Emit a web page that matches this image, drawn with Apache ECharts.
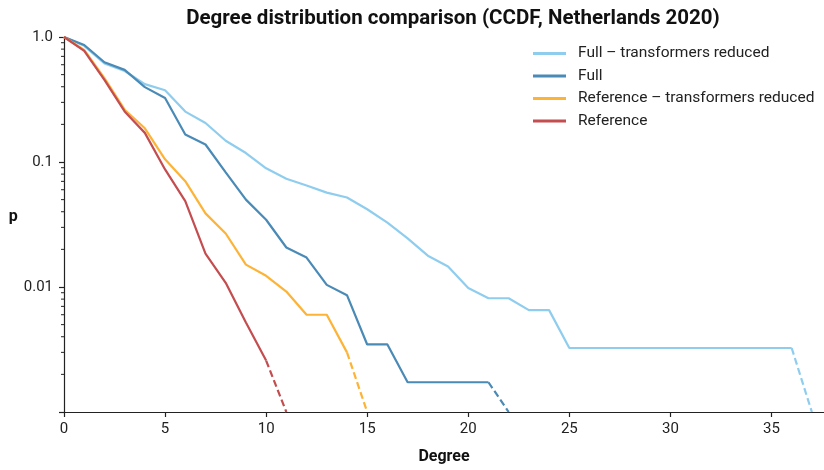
<!DOCTYPE html>
<html>
<head>
<meta charset="utf-8">
<script src="https://cdn.jsdelivr.net/npm/echarts@6/dist/echarts.min.js"></script>
<style>html,body{margin:0;padding:0;background:#fff}#c{width:824px;height:470px}</style>
</head>
<body>
<div id="c"></div>
<script>
// ---- data ----
const seriesNames = ['Full \u2013 transformers reduced', 'Full', 'Reference \u2013 transformers reduced', 'Reference'];
const seriesColors = ['#8fcdef', '#4a8ab6', '#fdb336', '#c44d4f'];

const fullTRDeg = [0,1,2,3,4,5,6,7,8,9,10,11,12,13,14,15,16,17,18,19,20,21,22,23,24,25,36];
const fullTRVal = [1.0,0.85,0.615,0.535,0.42,0.375,0.253,0.205,0.148,0.118,0.089,0.0735,0.0648,0.0569,0.052,0.0419,0.0327,0.0245,0.0178,0.0146,0.0098,0.00813,0.00813,0.00653,0.00653,0.00325,0.00325];
const fullTRTail = [[36,0.00325],[37,0.001]];

const fullDeg = [0,1,2,3,4,5,6,7,8,9,10,11,12,13,14,15,16,17,18,19,20,21];
const fullVal = [1.0,0.863,0.628,0.546,0.397,0.325,0.166,0.138,0.0827,0.050,0.0345,0.0207,0.0172,0.0104,0.0086,0.00347,0.00347,0.00173,0.00173,0.00173,0.00173,0.00173];
const fullTail = [[21,0.00173],[22,0.001]];

const refTRDeg = [0,1,2,3,4,5,6,7,8,9,10,11,12,13,14];
const refTRVal = [1.0,0.788,0.469,0.262,0.186,0.105,0.0703,0.0388,0.0268,0.0151,0.0123,0.0092,0.0060,0.0060,0.0030];
const refTRTail = [[14,0.0030],[15,0.001]];

const refDeg = [0,1,2,3,4,5,6,7,8,9,10];
const refVal = [1.0,0.775,0.454,0.254,0.171,0.0872,0.0486,0.0185,0.0108,0.0052,0.00258];
const refTail = [[10,0.00258],[11,0.001]];

const xTicks = [0,5,10,15,20,25,30,35];
const yMinorTicks = [];
[0.001,0.01,0.1].forEach(b => { for (let m = 2; m <= 9; m++) yMinorTicks.push(+(b*m).toPrecision(3)); });

// ---- build ----
const F = 'Roboto, "Noto Sans", sans-serif';
const zip = (d, v) => d.map((x, i) => [x, v[i]]);
const mains = [zip(fullTRDeg, fullTRVal), zip(fullDeg, fullVal), zip(refTRDeg, refTRVal), zip(refDeg, refVal)];
const tails = [fullTRTail, fullTail, refTRTail, refTail];

const series = [];
mains.forEach((d, i) => {
  series.push({
    name: seriesNames[i], type: 'line', data: d, showSymbol: false, symbol: 'none', clip: false,
    lineStyle: {color: seriesColors[i], width: 2.2}, itemStyle: {color: seriesColors[i]}, z: 2 + i
  });
  series.push({
    name: seriesNames[i], type: 'line', data: tails[i], showSymbol: false, symbol: 'none', clip: false,
    lineStyle: {color: seriesColors[i], width: 2.2, type: [7, 3.5]}, itemStyle: {color: seriesColors[i]}, z: 2 + i
  });
});
series.push({
  type: 'custom', silent: true, clip: false, z: 10,
  data: yMinorTicks.map(v => [0, v]),
  renderItem: (params, api) => {
    const p = api.coord([api.value(0), api.value(1)]);
    return {type: 'line', shape: {x1: p[0] - 3, y1: p[1], x2: p[0], y2: p[1]}, style: {stroke: '#222', lineWidth: 1}};
  }
});

const chart = echarts.init(document.getElementById('c'), null, {renderer: 'canvas'});
chart.setOption({
  animation: false,
  backgroundColor: '#fff',
  title: {
    text: 'Degree distribution comparison (CCDF, Netherlands 2020)',
    left: 448, top: 3, textAlign: 'center',
    textStyle: {fontFamily: F, fontSize: 20.5, fontWeight: 'bold', color: '#111'}
  },
  legend: {
    orient: 'vertical', left: 533, top: 45.5, padding: 0, itemGap: 6.5, itemWidth: 33, itemHeight: 3,
    icon: 'rect', data: seriesNames,
    textStyle: {fontFamily: F, fontSize: 15.5, color: '#222', lineHeight: 16, padding: [0, 0, 0, 7]}
  },
  grid: {left: 64, right: 0, top: 37, bottom: 57, containLabel: false},
  xAxis: {
    type: 'value', min: 0, max: 37.6,
    name: 'Degree', nameLocation: 'middle', nameGap: 37,
    nameTextStyle: {fontFamily: F, fontSize: 16, fontWeight: 'bold', color: '#111'},
    axisLine: {show: true, lineStyle: {color: '#222', width: 1.2}},
    axisTick: {show: true, length: 5, inside: false, customValues: xTicks, lineStyle: {color: '#222', width: 1.2}},
    axisLabel: {customValues: xTicks, fontFamily: F, fontSize: 15, color: '#222', margin: 10},
    splitLine: {show: false}
  },
  yAxis: {
    type: 'log', logBase: 10, min: 0.001, max: 1,
    name: 'p', nameLocation: 'middle', nameGap: 46, nameRotate: 0,
    nameTextStyle: {fontFamily: F, fontSize: 16, fontWeight: 'bold', color: '#111', verticalAlign: 'bottom'},
    axisLine: {show: true, onZero: false, lineStyle: {color: '#222', width: 1.2}},
    axisTick: {show: true, length: 5, lineStyle: {color: '#222', width: 1.2}},
    axisLabel: {
      fontFamily: F, fontSize: 15, color: '#222', margin: 11,
      formatter: v => {
        const e = Math.round(Math.log10(v));
        if (e === 0) return '1.0';
        if (e === -1) return '0.1';
        if (e === -2) return '0.01';
        return '';
      }
    },
    splitLine: {show: false}
  },
  series: series
});
</script>
</body>
</html>
